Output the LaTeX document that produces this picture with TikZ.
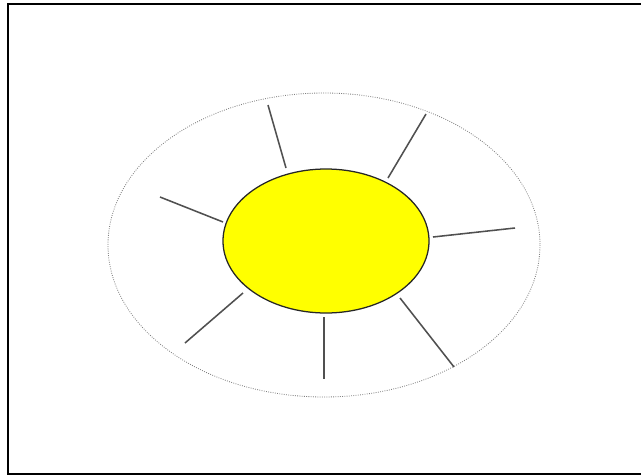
\documentclass[tikz,border=0pt]{standalone}
\usepackage{xcolor}
\usepackage{tikz}
\definecolor{rayo}{HTML}{505050}
\definecolor{amarillo}{RGB}{255,255,0}
\tikzset{
  marco/.style={draw=black,line width=1.4pt},
  halo/.style={draw=gray,densely dotted,line width=0.6pt},
  sol/.style={fill=amarillo,draw=black!85,line width=0.9pt},
  rayito/.style={draw=rayo,line width=1.1pt}
}
\begin{document}
\begin{tikzpicture}[x=0.025cm,y=-0.025cm]
\useasboundingbox (0,0) rectangle (641,475);
\clip (0,0) rectangle (641,475);
% marco
\draw[marco] (8.3,3.7) rectangle (660,474);
% halo exterior
\draw[halo] (324,245) ellipse [x radius=216,y radius=152];
% rayos
\foreach \xa/\ya/\xb/\yb in {268/105/286/168, 426/114/388/178, 433/237/515/228,
  160/197/223/222, 243/293/185/343, 324/317/324/379, 400/298/454/367}
  \draw[rayito] (\xa,\ya) -- (\xb,\yb);
% sol
\draw[sol] (326,241) ellipse [x radius=103,y radius=72];
\end{tikzpicture}
\end{document}
